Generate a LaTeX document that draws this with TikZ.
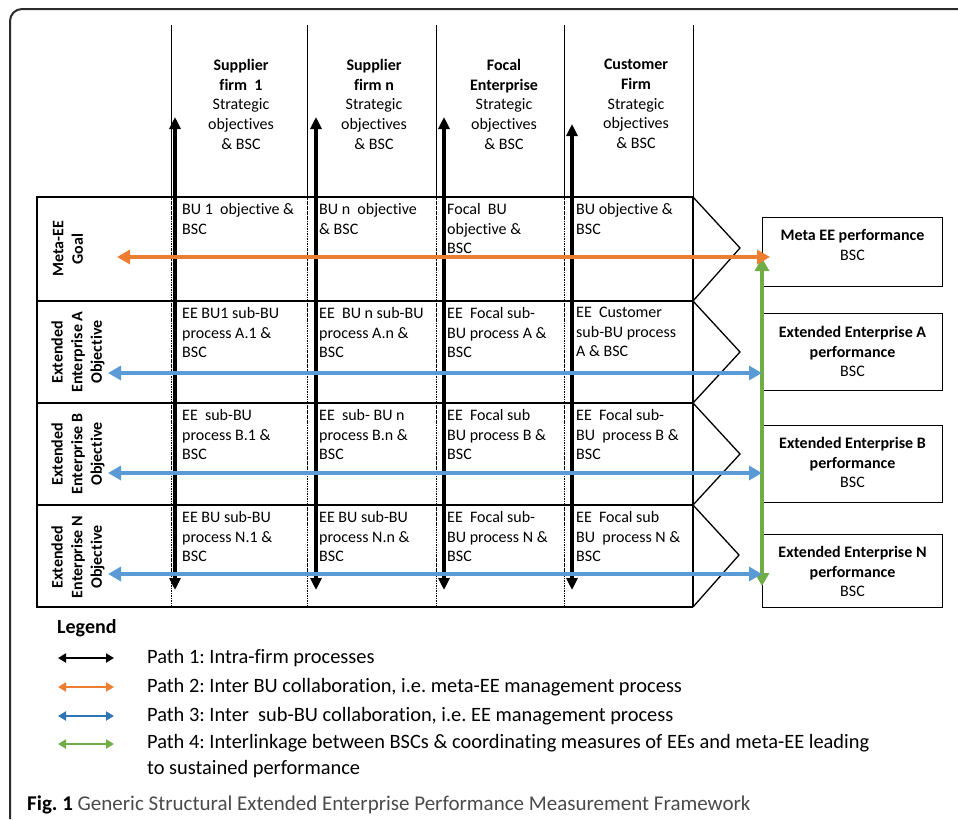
\documentclass[tikz,border=0pt]{standalone}
\usepackage{fontspec}
\setmainfont{Carlito}[Ligatures=NoCommon]
\usetikzlibrary{arrows.meta,positioning}
\definecolor{pathorange}{HTML}{ED7D31}
\definecolor{pathblue}{HTML}{5B9BD5}
\definecolor{legblue}{HTML}{2E75B6}
\definecolor{pathgreen}{HTML}{70AD47}
\definecolor{framegray}{HTML}{2B2B2B}
\definecolor{capgray}{HTML}{4A4A4A}
\frenchspacing
\begin{document}
\begin{tikzpicture}[
      x=1pt, y=-1pt,
      txt/.style={font=\fontsize{16}{19.7}\selectfont, inner sep=0pt},
      head/.style={txt, align=center, anchor=north},
      cell/.style={txt, align=left, anchor=north west},
      rowlab/.style={txt, font=\fontsize{16}{19.7}\selectfont\bfseries, align=center, rotate=90},
      perfbox/.style={draw, line width=1pt, minimum width=180pt, anchor=north west, inner sep=0pt},
      perftxt/.style={txt, align=center, anchor=north},
      gridline/.style={line width=2.8pt},
      colline/.style={line width=0.8pt},
      cellsep/.style={line width=0.7pt, dash pattern=on 2.5pt off 1pt on 0.6pt off 1pt},
      chevron/.style={line width=1.3pt, line join=miter},
      intra/.style={line width=3.5pt, {Triangle[length=12pt,width=11pt]}-{Triangle[length=12pt,width=11pt]}},
      interbu/.style={pathorange, line width=4.5pt, {Triangle[length=13pt,width=14pt]}-{Triangle[length=13pt,width=14pt]}},
      intersub/.style={pathblue, line width=4.5pt, {Triangle[length=13pt,width=14pt]}-{Triangle[length=13pt,width=14pt]}},
      linkage/.style={pathgreen, line width=4.5pt, {Triangle[length=13pt,width=14pt]}-{Triangle[length=13pt,width=14pt]}},
      legarrow/.style={line width=2pt, {Triangle[length=8pt,width=9pt]}-{Triangle[length=8pt,width=9pt]}},
      legtxt/.style={font=\fontsize{20.4}{26.5}\selectfont, inner sep=0pt, anchor=west}
    ]
    \useasboundingbox (0,0) rectangle (958,819);

    % Frame
    \draw[framegray, line width=2pt, rounded corners=12pt] (10,819) -- (10,9) -- (958,9);

    % Column headers
    \node[head] (h1) at (241,59) {\textbf{Supplier}\\\textbf{firm\ \ 1}\\Strategic\\objectives\\\& BSC};
    \node[head] (h2) at (374,59) {\textbf{Supplier}\\\textbf{firm n}\\Strategic\\objectives\\\& BSC};
    \node[head] (h3) at (504,59) {\textbf{Focal}\\\textbf{Enterprise}\\Strategic\\objectives\\\& BSC};
    \node[head] (h4) at (636,59) {\textbf{Customer}\\\textbf{Firm}\\Strategic\\objectives\\\& BSC};

    % Grid
    \foreach \x in {171,307,436,564,693}
      \draw[colline] (\x,25) -- (\x,197);
    \foreach \x in {171,307,436,564}
      \draw[cellsep] (\x,197) -- (\x,607);
    \draw[line width=1.6pt] (693,197) -- (693,607);
    \foreach \y in {197,301,403,505,607}
      \draw[gridline] (37,\y) -- (693,\y);
    \draw[line width=2.5pt] (37,196) -- (37,608);
    \draw[chevron] (693,197) -- (740,248) -- (693,301) -- (740,352) -- (693,403)
      -- (740,454) -- (693,505) -- (739,555) -- (693,607);

    % Row labels
    \node[rowlab] (r1) at (68,249) {Meta-EE\\Goal};
    \node[rowlab] (r2) at (78,352) {Extended\\Enterprise A\\Objective};
    \node[rowlab] (r3) at (78,454) {Extended\\Enterprise B\\Objective};
    \node[rowlab] (r4) at (78,557) {Extended\\Enterprise N\\Objective};

    % Cells
    \node[cell] (c11) at (182,203) {BU 1\ \ objective \&\\BSC};
    \node[cell] (c12) at (319,203) {BU n\ \ objective\\\& BSC};
    \node[cell] (c13) at (447,203) {Focal\ \ BU\\objective \&\\BSC};
    \node[cell] (c14) at (576,203) {BU objective \&\\BSC};
    \node[cell] (c21) at (182,307) {EE BU1 sub-BU\\process A.1 \&\\BSC};
    \node[cell] (c22) at (319,307) {EE\ \ BU n sub-BU\\process A.n \&\\BSC};
    \node[cell] (c23) at (447,307) {EE\ \ Focal sub-\\BU process A \&\\BSC};
    \node[cell] (c24) at (576,307) {EE\ \ Customer\\sub-BU process\\A \& BSC};
    \node[cell] (c31) at (182,409) {EE\ \ sub-BU\\process B.1 \&\\BSC};
    \node[cell] (c32) at (319,409) {EE\ \ sub- BU n\\process B.n \&\\BSC};
    \node[cell] (c33) at (447,409) {EE\ \ Focal sub\\BU process B \&\\BSC};
    \node[cell] (c34) at (576,409) {EE\ \ Focal sub-\\BU\ \ process B \&\\BSC};
    \node[cell] (c41) at (182,511) {EE BU sub-BU\\process N.1 \&\\BSC};
    \node[cell] (c42) at (319,511) {EE BU sub-BU\\process N.n \&\\BSC};
    \node[cell] (c43) at (447,511) {EE\ \ Focal sub-\\BU process N \&\\BSC};
    \node[cell] (c44) at (576,511) {EE\ \ Focal sub\\BU\ \ process N \&\\BSC};

    % Performance boxes
    \node[perfbox, minimum height=69pt] (p1) at (762,217) {};
    \node[perfbox, minimum height=77pt] (p2) at (762,313) {};
    \node[perfbox, minimum height=77pt] (p3) at (762,425) {};
    \node[perfbox, minimum height=73pt] (p4) at (762,534) {};
    \node[perftxt, below=12pt of p1.north] (p1t) {\textbf{Meta EE performance}\\BSC};
    \node[perftxt, below=13pt of p2.north] (p2t) {\textbf{Extended Enterprise A}\\\textbf{performance}\\BSC};
    \node[perftxt, below=12pt of p3.north] (p3t) {\textbf{Extended Enterprise B}\\\textbf{performance}\\BSC};
    \node[perftxt, below=12pt of p4.north] (p4t) {\textbf{Extended Enterprise N}\\\textbf{performance}\\BSC};

    % Arrow ends
    \coordinate (v1t) at (175,117);  \coordinate (v1b) at (175,590);
    \coordinate (v2t) at (316,117);  \coordinate (v2b) at (316,590);
    \coordinate (v3t) at (444,117);  \coordinate (v3b) at (444,590);
    \coordinate (v4t) at (572,124);  \coordinate (v4b) at (572,590);
    \coordinate (oL) at (117,257);   \coordinate (oR) at (770,257);
    \coordinate (aL) at (108,373);   \coordinate (aR) at (p2.west |- aL);
    \coordinate (bL) at (108,473);   \coordinate (bR) at (p3.west |- bL);
    \coordinate (nL) at (108,574);   \coordinate (nR) at (p4.west |- nL);
    \coordinate (gT) at (762,258);   \coordinate (gB) at (762,586);

    % Paths
    \draw[intra] (v1b) -- (v1t);
    \draw[intra] (v2b) -- (v2t);
    \draw[intra] (v3b) -- (v3t);
    \draw[intra] (v4b) -- (v4t);
    \draw[linkage] (gT) -- (gB);
    \draw[interbu] (oL) -- (oR);
    \draw[intersub] (aL) -- (aR);
    \draw[intersub] (bL) -- (bR);
    \draw[intersub] (nL) -- (nR);

    % Legend
    \node[font=\fontsize{20}{23}\selectfont\bfseries, inner sep=0pt, anchor=west] (legend) at (57,628) {Legend};
    \coordinate (k1a) at (58,658); \coordinate (k1b) at (114,658);
    \coordinate (k2a) at (58,687); \coordinate (k2b) at (114,687);
    \coordinate (k3a) at (58,716); \coordinate (k3b) at (114,716);
    \coordinate (k4a) at (58,744); \coordinate (k4b) at (114,744);
    \draw[legarrow] (k1a) -- (k1b);
    \draw[legarrow, pathorange] (k2a) -- (k2b);
    \draw[legarrow, legblue] (k3a) -- (k3b);
    \draw[legarrow, pathgreen] (k4a) -- (k4b);
    \node[legtxt] (l1) at (147,658) {Path 1: Intra-firm processes};
    \node[legtxt] (l2) at (147,687) {Path 2: Inter BU collaboration, i.e. meta-EE management process};
    \node[legtxt] (l3) at (147,716) {Path 3: Inter\ \ sub-BU collaboration, i.e. EE management process};
    \node[legtxt, align=left, anchor=north west] (l4) at (147,734) {Path 4: Interlinkage between BSCs \& coordinating measures of EEs and meta-EE leading\\to sustained performance};

    % Caption
    \node[font=\fontsize{21}{25}\selectfont, inner sep=0pt, anchor=west] (caption) at (27,805)
      {\textbf{Fig. 1} {\color{capgray}Generic Structural Extended Enterprise Performance Measurement Framework}};
  \end{tikzpicture}
\end{document}
